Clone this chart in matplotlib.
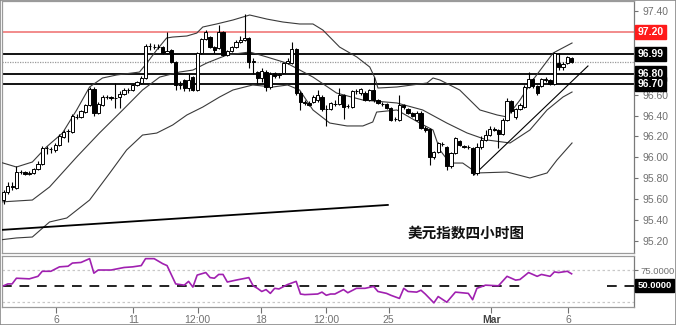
import matplotlib
matplotlib.use("Agg")
import matplotlib.pyplot as plt
from matplotlib.patches import Rectangle

plt.rcParams['font.family'] = ['Liberation Sans', 'DejaVu Sans']

# ---------------- data ----------------
opens = [95.59, 95.67, 95.73, 95.71, 95.86, 95.86, 95.84, 95.85, 95.89, 95.94,
         96.09, 96.08, 96.07, 96.12, 96.19, 96.25, 96.24, 96.39, 96.39, 96.43,
         96.50, 96.65, 96.42, 96.50, 96.58, 96.58, 96.57, 96.58, 96.61, 96.64,
         96.64, 96.69, 96.71, 96.76, 97.07, 97.06, 97.06, 97.06, 97.00, 97.03,
         96.91, 96.69, 96.74, 96.66, 96.77, 96.64, 97.00, 97.13, 97.15, 97.06,
         97.05, 97.20, 96.98, 97.02, 97.06, 97.10, 97.12, 97.14, 96.91, 96.82,
         96.76, 96.82, 96.67, 96.81, 96.79, 96.81, 96.90, 96.90, 97.04, 96.62,
         96.53, 96.52, 96.53, 96.55, 96.58, 96.46, 96.46, 96.51, 96.51, 96.60,
         96.49, 96.48, 96.63, 96.62, 96.62, 96.55, 96.64, 96.55, 96.51, 96.51,
         96.47, 96.37, 96.36, 96.50, 96.46, 96.42, 96.36, 96.42, 96.28, 96.27,
         96.00, 96.05, 96.13, 96.10, 95.92, 96.04, 96.16, 96.11, 96.10, 96.09,
         95.85, 96.10, 96.17, 96.21, 96.27, 96.26, 96.22, 96.36, 96.54, 96.39,
         96.46, 96.48, 96.67, 96.75, 96.68, 96.68, 96.74, 96.74, 96.70, 96.90,
         96.86, 96.90, 96.95]
highs = [95.69, 95.76, 95.76, 95.92, 95.88, 95.87, 95.87, 95.90, 95.96, 96.11,
         96.11, 96.10, 96.14, 96.22, 96.26, 96.27, 96.41, 96.41, 96.45, 96.51,
         96.67, 96.67, 96.53, 96.60, 96.60, 96.59, 96.71, 96.63, 96.66, 96.66,
         96.70, 96.73, 96.78, 97.08, 97.09, 97.08, 97.08, 97.07, 97.20, 97.04,
         96.92, 96.73, 96.75, 96.80, 96.78, 97.01, 97.14, 97.22, 97.16, 97.07,
         97.27, 97.21, 97.03, 97.07, 97.12, 97.16, 97.37, 97.15, 96.95, 96.83,
         96.85, 96.84, 96.82, 96.82, 96.81, 96.91, 96.95, 97.10, 97.05, 96.63,
         96.55, 96.54, 96.60, 96.64, 96.60, 96.50, 96.53, 96.55, 96.66, 96.61,
         96.51, 96.64, 96.65, 96.66, 96.63, 96.65, 96.77, 96.56, 96.53, 96.52,
         96.48, 96.39, 96.60, 96.51, 96.47, 96.43, 96.44, 96.44, 96.30, 96.28,
         96.06, 96.15, 96.15, 96.11, 96.05, 96.19, 96.17, 96.12, 96.12, 96.10,
         96.14, 96.20, 96.26, 96.30, 96.29, 96.27, 96.38, 96.57, 96.55, 96.47,
         96.52, 96.69, 96.82, 96.76, 96.69, 96.76, 96.77, 96.75, 97.01, 97.00,
         96.91, 96.97, 96.96]
lows = [95.55, 95.65, 95.69, 95.70, 95.84, 95.83, 95.83, 95.84, 95.88, 95.93,
        96.03, 96.04, 96.05, 96.11, 96.18, 96.15, 96.23, 96.37, 96.38, 96.42,
        96.49, 96.40, 96.41, 96.49, 96.56, 96.55, 96.47, 96.47, 96.60, 96.62,
        96.63, 96.68, 96.70, 96.75, 97.03, 97.04, 97.04, 96.99, 96.99, 96.90,
        96.64, 96.65, 96.63, 96.63, 96.63, 96.63, 96.99, 97.12, 97.05, 97.00,
        97.04, 96.97, 96.97, 97.01, 97.05, 97.09, 97.11, 96.85, 96.80, 96.70,
        96.72, 96.63, 96.65, 96.76, 96.76, 96.80, 96.89, 96.89, 96.60, 96.45,
        96.50, 96.49, 96.52, 96.53, 96.44, 96.30, 96.45, 96.49, 96.50, 96.37,
        96.47, 96.47, 96.61, 96.60, 96.54, 96.54, 96.53, 96.51, 96.49, 96.46,
        96.35, 96.35, 96.35, 96.46, 96.41, 96.39, 96.35, 96.27, 96.24, 95.93,
        95.98, 96.04, 96.11, 95.88, 95.90, 96.03, 96.11, 96.09, 96.08, 95.83,
        95.83, 96.08, 96.16, 96.20, 96.25, 96.09, 96.21, 96.35, 96.42, 96.37,
        96.45, 96.47, 96.66, 96.66, 96.60, 96.67, 96.72, 96.69, 96.69, 96.84,
        96.84, 96.89, 96.90]
closes = [95.67, 95.73, 95.72, 95.86, 95.86, 95.84, 95.85, 95.89, 95.94, 96.09,
          96.09, 96.08, 96.12, 96.20, 96.24, 96.25, 96.40, 96.39, 96.44, 96.50,
          96.65, 96.42, 96.51, 96.58, 96.58, 96.57, 96.57, 96.61, 96.64, 96.64,
          96.69, 96.72, 96.76, 97.07, 97.07, 97.06, 97.06, 97.00, 97.02, 96.91,
          96.69, 96.69, 96.66, 96.74, 96.64, 97.00, 97.13, 97.20, 97.06, 97.03,
          97.20, 96.98, 97.02, 97.06, 97.10, 97.12, 97.14, 96.91, 96.92, 96.76,
          96.83, 96.67, 96.80, 96.78, 96.80, 96.90, 96.92, 97.04, 96.62, 96.53,
          96.52, 96.50, 96.58, 96.60, 96.46, 96.46, 96.52, 96.51, 96.60, 96.48,
          96.49, 96.63, 96.63, 96.65, 96.55, 96.64, 96.55, 96.52, 96.51, 96.47,
          96.36, 96.37, 96.50, 96.48, 96.42, 96.40, 96.42, 96.28, 96.26, 96.00,
          96.05, 96.14, 96.13, 95.92, 96.04, 96.18, 96.12, 96.10, 96.10, 95.85,
          96.10, 96.17, 96.21, 96.27, 96.26, 96.22, 96.36, 96.54, 96.44, 96.46,
          96.50, 96.67, 96.75, 96.68, 96.62, 96.75, 96.75, 96.70, 97.00, 96.86,
          96.89, 96.96, 96.91]

# Bollinger bands (candle index / price)
bb_up_idx = [-0.9, 3.0, 6.7, 10.0, 13.7, 17.0, 20.0, 23.0, 26.3, 31.6, 33.3, 35.6,
             37.9, 39.3, 42.6, 44.9, 46.3, 49.5, 53.3, 57.2, 61.2, 64.9, 68.8, 71.9,
             74.2, 78.1, 82.1, 85.1, 86.3, 87.0, 91.4, 98.4, 99.8, 101.4, 106.0,
             110.7, 114.7, 117.0, 120.0, 123.0, 127.7, 132.1]
bb_up_val = [95.955, 95.907, 95.955, 96.10, 96.232, 96.453, 96.673, 96.759, 96.788,
             96.816, 96.902, 97.027, 97.142, 97.151, 97.161, 97.189, 97.247, 97.276,
             97.314, 97.362, 97.323, 97.295, 97.276, 97.276, 97.218, 97.055, 96.96,
             96.864, 96.759, 96.663, 96.673, 96.711, 96.759, 96.74, 96.644, 96.453,
             96.405, 96.386, 96.548, 96.74, 96.998, 97.094]
bb_mid_idx = [-0.9, 6.7, 10.7, 17.0, 22.3, 27.7, 32.3, 36.3, 40.9, 44.0, 47.2, 51.9,
              57.2, 61.2, 65.8, 71.9, 77.4, 83.5, 91.4, 97.4, 103.0, 107.7, 112.3,
              117.7, 122.3, 126.3, 130.0, 132.1]
bb_mid_val = [95.572, 95.591, 95.716, 96.003, 96.233, 96.453, 96.644, 96.768, 96.816,
              96.835, 96.902, 96.979, 97.008, 96.96, 96.902, 96.768, 96.615, 96.548,
              96.52, 96.453, 96.328, 96.233, 96.166, 96.137, 96.261, 96.453, 96.577,
              96.625]
bb_low_idx = [-0.9, 3.0, 6.7, 10.7, 14.7, 20.0, 24.7, 28.6, 32.3, 35.6, 39.3, 42.6,
              46.3, 50.2, 53.3, 57.9, 62.6, 66.0, 68.8, 71.9, 75.8, 79.8, 83.5, 85.8,
              86.7, 91.4, 96.7, 99.8, 101.4, 103.7, 106.7, 110.0, 117.0, 122.3, 126.3,
              128.6, 132.1]
bb_low_val = [95.209, 95.228, 95.237, 95.381, 95.419, 95.591, 95.85, 96.07, 96.213,
              96.232, 96.309, 96.405, 96.481, 96.577, 96.644, 96.692, 96.673, 96.692,
              96.644, 96.453, 96.328, 96.30, 96.30, 96.338, 96.433, 96.453, 96.328,
              96.261, 96.07, 95.945, 95.945, 95.85, 95.859, 95.802, 95.85, 95.974,
              96.137]

# analyst lines: (start index, start price, end index, end price)
support_line = [-0.9, 95.304, 89.3, 95.544]
trend_line = [109.3, 95.83, 135.8, 96.874]

levels_black = [96.99, 96.80, 96.70]
level_red = 97.20
last_price = 96.915

# RSI
rsi_idx = [0, 1, 2, 3, 6, 8, 9, 11, 13, 15, 16, 18, 20, 21, 22, 25, 28, 30, 31, 32,
           33, 35, 37, 38, 40, 42, 43, 44, 45, 47, 48, 49, 50, 51, 52, 54, 57, 58, 59,
           60, 61, 62, 63, 64, 66, 68, 69, 70, 73, 74, 75, 76, 77, 79, 80, 82, 84, 86,
           87, 89, 90, 92, 93, 94, 96, 97, 98, 100, 101, 103, 105, 108, 109, 110, 112,
           115, 117, 119, 120, 122, 124, 125, 127, 128, 129, 131, 132]
rsi_val = [50, 53, 53, 62, 61, 65, 73, 73, 80, 81, 86, 87, 93, 70, 75, 75, 79, 80, 81,
           82, 93, 93, 85, 82, 53, 51, 57, 48, 67, 71, 63, 62, 68, 68, 56, 59, 63, 50,
           46, 41, 44, 38, 46, 45, 52, 57, 37, 36, 37, 40, 35, 37, 37, 44, 39, 46, 46,
           49, 41, 38, 35, 30, 46, 41, 40, 43, 37, 23, 33, 24, 40, 38, 28, 46, 51, 50,
           65, 59, 60, 71, 65, 68, 65, 72, 71, 73, 69]

xtick_pos = [12.3, 30.2, 45.1, 59.9, 74.9, 89.5, 113.3, 131.2]
xtick_labels = ['6', '11', '12:00', '18', '12:00', '25', 'Mar', '6']

# ---------------- figure ----------------
W, H = 676, 325
fig = plt.figure(figsize=(W / 100, H / 100), dpi=100)
fig.patch.set_facecolor('white')

ax = fig.add_axes([1.5 / W, 1 - 253 / H, (634 - 1.5) / W, 252 / H])
ax2 = fig.add_axes([1.5 / W, 1 - 306.7 / H, (634 - 1.5) / W, 50.7 / H])

x0 = -0.47
x1 = 146.5
ax.set_xlim(x0, x1)
ax.set_ylim(95.084, 97.496)

frame_c = '#7a7a7a'
tick_c = '#707070'
for a in (ax, ax2):
    for s in a.spines.values():
        s.set_color('#9a9a9a')
        s.set_linewidth(0.9)
    a.spines['right'].set_color(frame_c)

# horizontal levels
for lv in levels_black:
    ax.axhline(lv, color='black', lw=1.3, zorder=2)
ax.axhline(level_red, color='#f07878', lw=1.2, zorder=2)
ax.axhline(last_price, color='#9a9a9a', lw=0.9, ls=(0, (1, 1)), zorder=2)

# bands
band_kw = dict(color='#3a3a3a', lw=0.8, zorder=3)
ax.plot(bb_up_idx, bb_up_val, **band_kw)
ax.plot(bb_mid_idx, bb_mid_val, **band_kw)
ax.plot(bb_low_idx, bb_low_val, **band_kw)

# analyst lines
ax.plot(support_line[0::2], support_line[1::2], color='black', lw=1.3, zorder=3)
ax.plot(trend_line[0::2], trend_line[1::2], color='black', lw=0.8, zorder=3)

# candles
for i, (o, h, l, c) in enumerate(zip(opens, highs, lows, closes)):
    ax.vlines(i, l, h, color='black', lw=0.8, zorder=4)
    up = c >= o
    ax.bar(i, abs(c - o), bottom=min(o, c), width=0.75,
           color='white' if up else 'black', edgecolor='black', linewidth=0.7,
           zorder=5)

# right axis ticks (labels under the level boxes are hidden, as in the chart)
ax.yaxis.tick_right()
yt = [95.2 + 0.2 * k for k in range(12)]
hidden = {'97.20', '97.00', '96.80'}
ax.set_yticks(yt)
ax.set_yticklabels(['' if f'{v:.2f}' in hidden else f'{v:.2f}' for v in yt])
ax.tick_params(axis='y', colors=tick_c, labelsize=7.5, length=3, pad=3, width=0.8)
ax.tick_params(axis='x', bottom=False, labelbottom=False)

def box_label(a, val, txt, fc, fs=7.5):
    a.annotate(txt, xy=(1.0, val), xycoords=('axes fraction', 'data'),
               xytext=(2.5, 0), textcoords='offset points', ha='left', va='center',
               fontsize=fs, fontweight='bold', color='white', zorder=10,
               bbox=dict(boxstyle='square,pad=0.22', fc=fc, ec=fc),
               annotation_clip=False)

box_label(ax, level_red, '97.20', '#ff1a1a')
for lv in levels_black:
    box_label(ax, lv, f'{lv:.2f}', 'black')

ax.text(0.734, 0.079, '美元指数四小时图', transform=ax.transAxes, ha='center',
        va='center', fontsize=10.5, fontweight='bold', color='#111111',
        family=['Noto Sans CJK SC', 'DejaVu Sans'])

# ---------------- RSI panel ----------------
ax2.set_xlim(x0, x1)
ax2.set_ylim(16.9, 97.2)
ax2.axhline(75, color='#c8c8c8', lw=0.9, ls=(0, (2, 2)))
ax2.axhline(25, color='#c8c8c8', lw=0.9, ls=(0, (2, 2)))
ax2.hlines(50, x0, 121.6, color='#222222', lw=1.4, linestyles=(0, (5, 4)), zorder=2)
ax2.hlines(50, 140.2, x1, color='#222222', lw=1.4, linestyles=(0, (5, 4)), zorder=2)
ax2.plot(rsi_idx, rsi_val, color='#a020b0', lw=1.2, zorder=3)

ax2.yaxis.tick_right()
ax2.set_yticks([75])
ax2.set_yticklabels(['75.0000'])
ax2.tick_params(axis='y', colors=tick_c, labelsize=6.8, length=3, pad=2, width=0.8)
box_label(ax2, 50, '50.0000', 'black', fs=6.8)

ax2.set_xticks(xtick_pos)
ax2.set_xticklabels(xtick_labels)
ax2.tick_params(axis='x', colors=tick_c, labelsize=7.5, length=4, pad=2, width=0.8)
for lab in ax2.get_xticklabels():
    if lab.get_text() == 'Mar':
        lab.set_fontweight('bold')
        lab.set_color('#444444')

fig.patches.append(Rectangle((0, 0), 1, 1, transform=fig.transFigure, fill=False,
                             ec='#8a8a8a', lw=1.2))

fig.savefig('out.png', dpi=100, facecolor='white')
